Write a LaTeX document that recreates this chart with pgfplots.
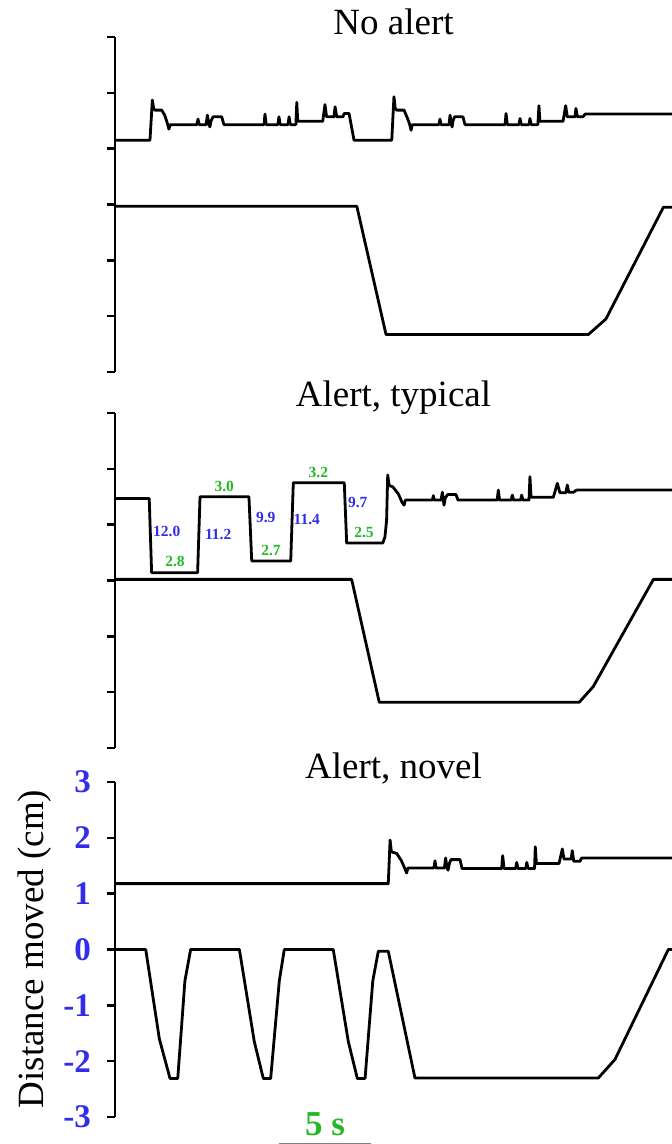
\documentclass[border=0pt]{standalone}
\usepackage{pgfplots}
\pgfplotsset{compat=1.18}
\usepackage{fontspec}
\setmainfont{Liberation Serif}
\definecolor{tickblue}{RGB}{50,45,235}
\definecolor{lblgreen}{RGB}{35,185,35}
\pgfplotsset{
  panel/.style={
    scale only axis, width=557pt, height=335pt,
    xmin=0, xmax=30.27, ymin=-3, ymax=3,
    axis x line=none, axis y line=left,
    y axis line style={-, line width=2.4pt},
    ytick={-3,-2,-1,0,1,2,3},
    tick align=outside, major tick length=8pt,
    ytick style={line width=2.4pt, black},
    clip=false,
    title style={font=\fontsize{37}{40}\selectfont, at={(0.5,1)}, anchor=base, inner sep=0pt},
  },
  trace/.style={black, line width=2.8pt, line join=round, no marks},
}
\begin{document}
\begin{tikzpicture}
\useasboundingbox (0,0) rectangle (672pt,1144pt);
% ---------------- top panel
\begin{axis}[panel, at={(115pt,772pt)}, anchor=south west, yticklabels={},
  title={No alert}, title style={yshift=-4pt}]
\addplot[trace] coordinates {(0,1.15)(1.90,1.15)(2.03,1.87)(2.10,1.72)(2.17,1.69)(2.54,1.69)(2.70,1.60)(2.85,1.45)(2.93,1.35)(3.00,1.43)
(4.45,1.43)(4.51,1.53)(4.58,1.43)(4.95,1.43)(5.02,1.60)(5.10,1.43)(5.16,1.39)(5.22,1.50)(5.33,1.57)(5.80,1.57)(5.92,1.43)
(8.10,1.43)(8.15,1.62)(8.22,1.43)(8.85,1.43)(8.91,1.57)(8.98,1.43)(9.40,1.43)(9.46,1.57)(9.53,1.43)(9.83,1.43)(9.88,1.83)(9.93,1.49)
(11.29,1.49)(11.41,1.79)(11.50,1.57)(11.90,1.57)(11.96,1.75)(12.05,1.57)(12.39,1.57)(12.45,1.63)(12.72,1.63)(12.99,1.15)
(15.04,1.15)(15.16,1.93)(15.23,1.72)(15.31,1.69)(15.71,1.69)(15.85,1.58)(16.00,1.45)(16.09,1.33)(16.15,1.43)
(17.60,1.43)(17.66,1.53)(17.72,1.43)(18.15,1.43)(18.21,1.60)(18.28,1.43)(18.32,1.39)(18.37,1.50)(18.45,1.57)(18.91,1.57)(19.02,1.43)
(21.20,1.43)(21.25,1.63)(21.32,1.43)(21.95,1.43)(22.01,1.54)(22.08,1.43)(22.50,1.43)(22.55,1.54)(22.62,1.43)(22.98,1.43)(23.04,1.77)(23.09,1.49)
(24.35,1.49)(24.49,1.77)(24.58,1.57)(25.00,1.57)(25.05,1.72)(25.13,1.57)(25.43,1.57)(25.55,1.62)(30.27,1.62)};
\addplot[trace] coordinates {(0,-0.03)(13.14,-0.03)(14.73,-2.33)(25.72,-2.33)(26.68,-2.05)(29.80,-0.05)(30.27,-0.05)};
\end{axis}
% ---------------- middle panel
\begin{axis}[panel, at={(115pt,396pt)}, anchor=south west, yticklabels={},
  title={Alert, typical}, title style={yshift=1pt}]
\addplot[trace] coordinates {(0,1.47)(1.86,1.47)(1.99,0.14)(4.49,0.14)(4.62,1.50)(7.28,1.50)(7.43,0.35)(9.55,0.35)(9.69,1.75)(12.46,1.75)(12.59,0.67)
(14.55,0.67)(14.67,0.78)(14.76,1.08)(14.82,1.89)(14.90,1.70)(15.09,1.68)(15.40,1.55)(15.60,1.40)(15.71,1.35)(15.78,1.44)
(17.25,1.44)(17.30,1.52)(17.36,1.44)(17.72,1.44)(17.79,1.58)(17.88,1.35)(17.95,1.48)(18.08,1.54)(18.53,1.54)(18.64,1.44)
(20.77,1.44)(20.83,1.62)(20.90,1.44)(21.53,1.44)(21.59,1.53)(21.66,1.44)(22.04,1.44)(22.10,1.53)(22.17,1.44)(22.50,1.44)(22.55,1.86)(22.61,1.49)
(23.82,1.49)(24.04,1.74)(24.18,1.57)(24.50,1.57)(24.58,1.71)(24.66,1.58)(24.91,1.58)(25.09,1.62)(30.27,1.62)};
\addplot[trace] coordinates {(0,0.02)(12.86,0.02)(14.36,-2.18)(25.23,-2.18)(25.99,-1.90)(29.26,0.02)(30.27,0.02)};
\begin{scope}[font=\fontsize{15.5}{17}\selectfont\bfseries]
\node[text=tickblue] at (axis cs:2.81,0.87) {12.0};
\node[text=lblgreen] at (axis cs:3.26,0.34) {2.8};
\node[text=tickblue] at (axis cs:5.61,0.83) {11.2};
\node[text=lblgreen] at (axis cs:5.94,1.69) {3.0};
\node[text=tickblue] at (axis cs:8.19,1.13) {9.9};
\node[text=lblgreen] at (axis cs:8.48,0.53) {2.7};
\node[text=tickblue] at (axis cs:10.42,1.10) {11.4};
\node[text=lblgreen] at (axis cs:11.05,1.93) {3.2};
\node[text=tickblue] at (axis cs:13.19,1.39) {9.7};
\node[text=lblgreen] at (axis cs:13.53,0.86) {2.5};
\end{scope}
\end{axis}
% ---------------- bottom panel
\begin{axis}[panel, at={(115pt,27pt)}, anchor=south west,
  yticklabels={-3,-2,-1,0,1,2,3},
  yticklabel style={font=\fontsize{33}{36}\selectfont\bfseries, text=tickblue, anchor=east, inner sep=0pt, xshift=-16pt},
  title={Alert, novel}, title style={yshift=-2pt}]
\addplot[trace] coordinates {(0,1.18)(14.85,1.18)(14.95,1.96)(15.02,1.75)(15.31,1.72)(15.55,1.60)(15.75,1.45)(15.85,1.37)(15.92,1.46)
(17.33,1.46)(17.39,1.59)(17.45,1.46)(17.90,1.46)(17.97,1.64)(18.04,1.46)(18.10,1.42)(18.18,1.55)(18.26,1.61)(18.75,1.61)(18.86,1.45)
(21.01,1.45)(21.07,1.68)(21.14,1.45)(21.77,1.45)(21.83,1.56)(21.90,1.45)(22.32,1.45)(22.38,1.56)(22.45,1.45)(22.80,1.45)(22.84,1.84)(22.90,1.54)
(24.13,1.54)(24.31,1.80)(24.40,1.62)(24.79,1.62)(24.85,1.77)(24.93,1.58)(25.27,1.58)(25.36,1.64)(30.27,1.64)};
\addplot[trace] coordinates {(0,0)(1.67,0)(2.41,-1.60)(2.99,-2.31)(3.41,-2.31)(3.80,-0.56)(4.11,0)(6.76,0)(7.57,-1.65)(8.06,-2.31)(8.46,-2.31)(8.93,-0.56)(9.20,0)
(11.86,0)(12.68,-1.65)(13.17,-2.31)(13.59,-2.31)(14.01,-0.56)(14.31,-0.03)(14.85,-0.03)(16.30,-2.30)(26.27,-2.30)(27.17,-1.97)(30.07,0)(30.27,0)};
\draw[gray, line width=1.2pt] (axis cs:8.91,-3.47) -- (axis cs:13.91,-3.47);
\node[anchor=base, text=lblgreen, font=\fontsize{35}{38}\selectfont\bfseries] at (axis cs:11.41,-3.33) {5 s};
\end{axis}
\node[rotate=90, anchor=base, font=\fontsize{37}{40}\selectfont, inner sep=0pt] at (43pt,195pt) {Distance moved (cm)};
\end{tikzpicture}
\end{document}
